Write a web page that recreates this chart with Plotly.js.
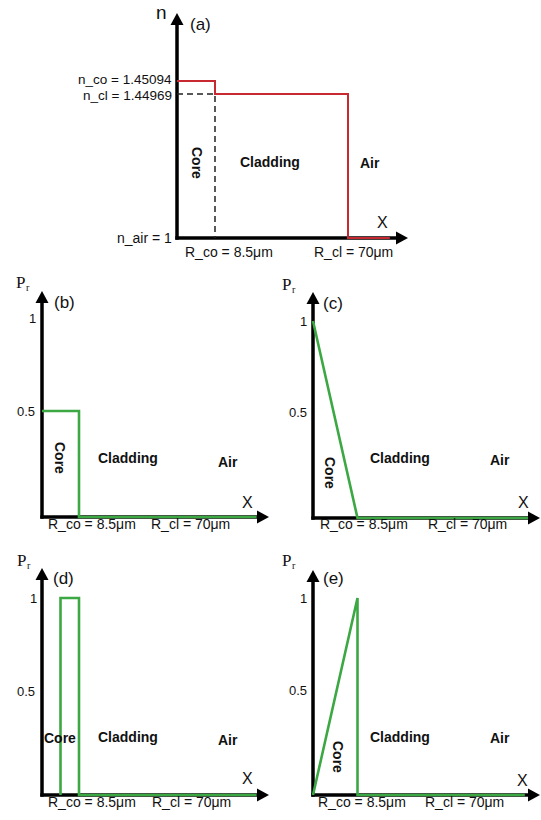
<!DOCTYPE html>
<html>
<head>
<meta charset="utf-8">
<script src="https://cdn.plot.ly/plotly-3.0.1.min.js"></script>
<style>html,body{margin:0;padding:0;background:#fff;}#chart{width:541px;height:820px;}</style>
</head>
<body>
<div id="chart"></div>
<script>
// ---------- DATA (schematic units: radius in units of R_co, level in schematic units) ----------
// (a) refractive-index profile
const radiusA = [0, 1, 1, 4.5, 4.5, 5.6];
const indexA  = [1.09, 1.09, 1, 1, 0, 0];
const dashRadiusA = [0, 1, 1];
const dashIndexA  = [1, 1, 0];
// (b) step power profile
const radiusB = [0, 1, 1, 5.8];
const powerB  = [0.5, 0.5, 0, 0];
// (c) decreasing linear profile
const radiusC = [0, 1, 4.89];
const powerC  = [1, 0, 0];
// (d) ring profile
const radiusD = [0.5, 0.5, 1, 1, 5.8];
const powerD  = [0, 1, 1, 0, 0];
// (e) increasing linear profile
const radiusE = [0, 1, 1, 4.76];
const powerE  = [0, 1, 0, 0];

const indexLabels  = ['n_co = 1.45094', 'n_cl = 1.44969', 'n_air = 1'];
const radiusLabels = ['R_co = 8.5μm', 'R_cl = 70μm'];
const regionNames  = ['Core', 'Cladding', 'Air'];
const powerTicks   = ['1', '0.5'];
const panelTags    = ['(a)', '(b)', '(c)', '(d)', '(e)'];

// ---------- LAYOUT HELPERS ----------
const W = 541, H = 820;
const FONT = 'Liberation Sans, Arial, sans-serif';
const SERIF = 'Liberation Serif, Times New Roman, serif';
const RED = '#c8282f', GREEN = '#3ca843', INK = '#111';
const pad = 6;

// pixel geometry of each panel: origin, px per unit, arrow tips
const geo = [
  {ox:177, oy:238, kx:38,   ky:144, tipX:408, tipY:13},
  {ox:42,  oy:517, kx:37,   ky:212, tipX:269, tipY:291},
  {ox:313, oy:518, kx:44.5, ky:197, tipX:540, tipY:292},
  {ox:42,  oy:795, kx:37,   ky:197, tipX:269, tipY:568},
  {ox:313, oy:795, kx:44.5, ky:197, tipX:540, tipY:570}
];

const px = (x, y) => ({x: x / W, y: 1 - y / H});
function txt(s, x, y, opts) {
  const p = px(x, y);
  const base = {text: s, x: p.x, y: p.y, xref: 'paper', yref: 'paper', showarrow: false,
    xanchor: 'center', yanchor: 'middle', borderpad: 0, font: {family: FONT, size: 14, color: INK}};
  const o = Object.assign(base, opts || {});
  if (opts && opts.font) o.font = Object.assign({family: FONT, size: 14, color: INK}, opts.font);
  return o;
}
function tri(pts) {
  return 'M' + pts.map(q => { const p = px(q[0], q[1]); return p.x + ',' + p.y; }).join('L') + 'Z';
}

const layout = {
  width: W, height: H, margin: {l: 0, r: 0, t: 0, b: 0},
  paper_bgcolor: '#fff', plot_bgcolor: 'rgba(0,0,0,0)',
  showlegend: false, shapes: [], annotations: []
};

const HL = 12, HW = 6.5;  // arrowhead length / half-width in px
geo.forEach((g, i) => {
  const s = i === 0 ? '' : String(i + 1);
  layout['xaxis' + s] = {
    domain: [(g.ox - pad) / W, g.tipX / W],
    range: [-pad / g.kx, (g.tipX - g.ox) / g.kx],
    visible: false, fixedrange: true, anchor: 'y' + s
  };
  layout['yaxis' + s] = {
    domain: [(H - (g.oy + pad)) / H, (H - g.tipY) / H],
    range: [-pad / g.ky, (g.oy - g.tipY) / g.ky],
    visible: false, fixedrange: true, anchor: 'x' + s
  };
  // axis lines (below traces)
  const a = px(g.ox - 1.7, g.oy), b = px(g.tipX - HL + 1, g.oy);
  layout.shapes.push({type: 'line', xref: 'paper', yref: 'paper', layer: 'below',
    x0: a.x, y0: a.y, x1: b.x, y1: b.y, line: {color: '#000', width: 3.5}});
  const c = px(g.ox, g.oy + 1.7), d = px(g.ox, g.tipY + HL - 1);
  layout.shapes.push({type: 'line', xref: 'paper', yref: 'paper', layer: 'below',
    x0: c.x, y0: c.y, x1: d.x, y1: d.y, line: {color: '#000', width: 3.5}});
  // arrow heads
  layout.shapes.push({type: 'path', xref: 'paper', yref: 'paper', layer: 'above',
    path: tri([[g.tipX, g.oy], [g.tipX - HL, g.oy - HW], [g.tipX - HL, g.oy + HW]]),
    fillcolor: '#000', line: {width: 0}});
  layout.shapes.push({type: 'path', xref: 'paper', yref: 'paper', layer: 'above',
    path: tri([[g.ox, g.tipY], [g.ox - HW, g.tipY + HL], [g.ox + HW, g.tipY + HL]]),
    fillcolor: '#000', line: {width: 0}});
});

// ---------- TRACES ----------
function line(x, y, s, color, width, dash) {
  return {type: 'scatter', mode: 'lines', x: x, y: y, xaxis: 'x' + s, yaxis: 'y' + s,
    line: {color: color, width: width, dash: dash || 'solid', shape: 'linear'},
    hoverinfo: 'skip'};
}
const data = [
  line(dashRadiusA, dashIndexA, '', '#222', 1.5, '6px,4px'),
  line(radiusA, indexA, '', RED, 2),
  line(radiusB, powerB, '2', GREEN, 2.6),
  line(radiusC, powerC, '3', GREEN, 2.6),
  line(radiusD, powerD, '4', GREEN, 2.6),
  line(radiusE, powerE, '5', GREEN, 2.6)
];

// ---------- TEXT ----------
const A = layout.annotations;
const bold = {font: {size: 14, weight: 'bold'}};
// panel (a)
A.push(txt('n', 161, 12, {font: {size: 19}}));
A.push(txt(panelTags[0], 200, 24, {font: {size: 17}}));
A.push(txt(indexLabels[0], 173, 80, {xanchor: 'right', font: {size: 13.5}}));
A.push(txt(indexLabels[1], 173, 95, {xanchor: 'right', font: {size: 13.5}}));
A.push(txt(indexLabels[2], 173, 238, {xanchor: 'right'}));
A.push(txt(radiusLabels[0], 229, 252));
A.push(txt(radiusLabels[1], 353, 252));
A.push(txt('X', 382, 222, {font: {size: 16}}));
A.push(txt(regionNames[0], 197, 163, Object.assign({textangle: 90}, bold)));
A.push(txt(regionNames[1], 270, 162, bold));
A.push(txt(regionNames[2], 370, 163, bold));

// power panels
const pp = [
  {tag: 1, pr: [20, 282], tg: [64, 302], t1: [32, 318], t05: [26, 411], X: [248, 502],
   core: [60, 458, 90], clad: [128, 458], air: [228, 462], rco: [92, 524], rcl: [190, 524]},
  {tag: 2, pr: [286, 284], tg: [333, 303], t1: [303, 321], t05: [298, 412], X: [523, 502],
   core: [330, 473, 90], clad: [400, 458], air: [500, 460], rco: [364, 524], rcl: [467, 524]},
  {tag: 3, pr: [21, 560], tg: [63, 578], t1: [33, 598], t05: [26, 691], X: [248, 778],
   core: [60, 738, 0], clad: [128, 737], air: [228, 740], rco: [92, 802], rcl: [191, 802]},
  {tag: 4, pr: [286, 560], tg: [333, 578], t1: [303, 598], t05: [298, 690], X: [522, 780],
   core: [338, 757, 90], clad: [400, 737], air: [500, 738], rco: [362, 802], rcl: [464, 802]}
];
pp.forEach(p => {
  A.push(txt('P', p.pr[0], p.pr[1], {font: {family: SERIF, size: 17}}));
  A.push(txt('r', p.pr[0] + 8, p.pr[1] + 5, {font: {family: SERIF, size: 10}}));
  A.push(txt(panelTags[p.tag], p.tg[0], p.tg[1], {font: {size: 17}}));
  A.push(txt(powerTicks[0], p.t1[0], p.t1[1], {font: {size: 13}}));
  A.push(txt(powerTicks[1], p.t05[0], p.t05[1], {font: {size: 13}}));
  A.push(txt('X', p.X[0], p.X[1], {font: {size: 16}}));
  A.push(txt(regionNames[0], p.core[0], p.core[1], Object.assign({textangle: p.core[2]}, bold)));
  A.push(txt(regionNames[1], p.clad[0], p.clad[1], bold));
  A.push(txt(regionNames[2], p.air[0], p.air[1], bold));
  A.push(txt(radiusLabels[0], p.rco[0], p.rco[1]));
  A.push(txt(radiusLabels[1], p.rcl[0], p.rcl[1]));
});

Plotly.newPlot('chart', data, layout, {staticPlot: true, displayModeBar: false});
</script>
</body>
</html>
